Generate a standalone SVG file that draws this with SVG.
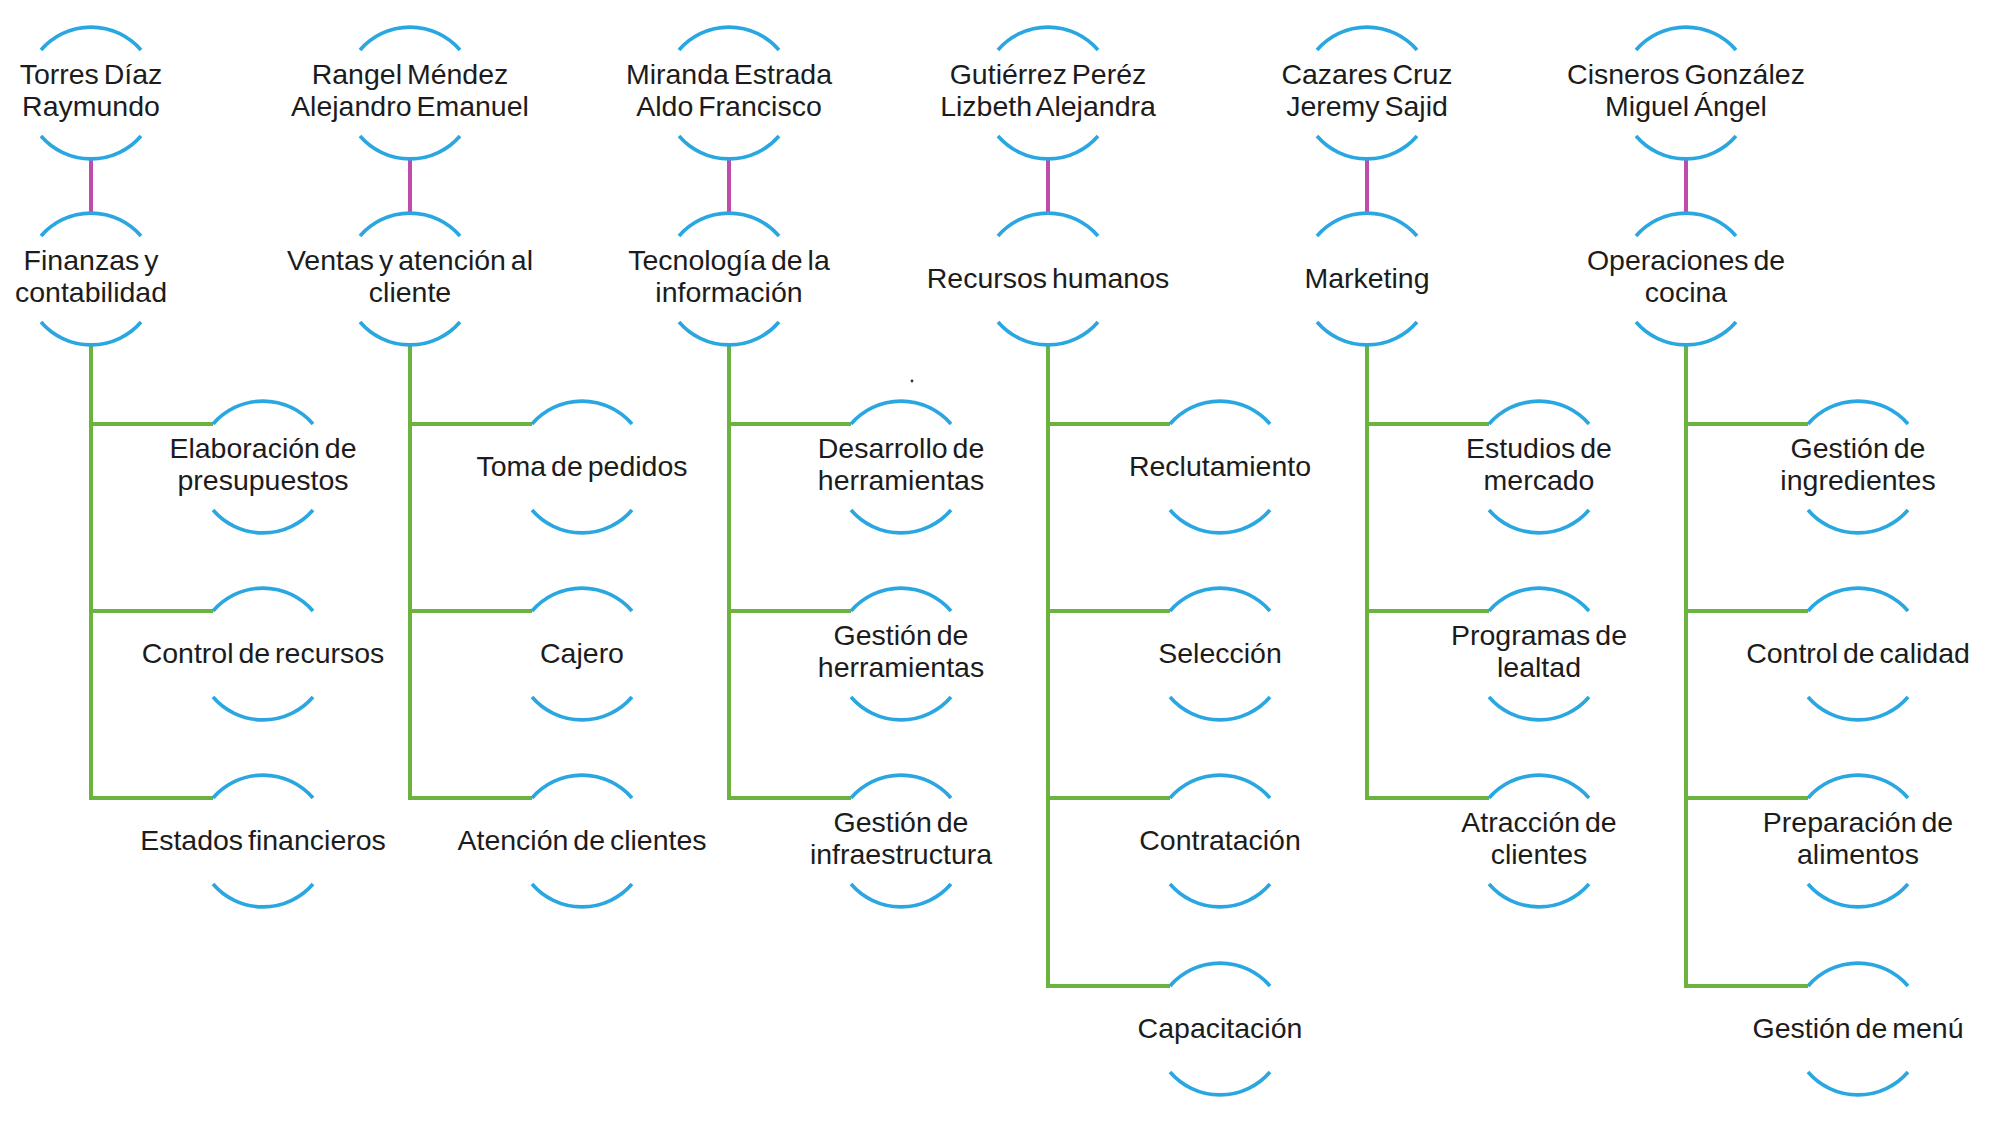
<svg xmlns="http://www.w3.org/2000/svg" xmlns:xlink="http://www.w3.org/1999/xlink" width="2006" height="1136" viewBox="0 0 2006 1136">
<style>
.ring path{fill:none;stroke:#2aa7e1;stroke-width:3.6}
.pink{fill:none;stroke:#bf4cab;stroke-width:4}
.green{fill:none;stroke:#6bb33e;stroke-width:4;stroke-linejoin:miter}
text{font-family:"Liberation Sans",Arial,sans-serif;font-size:28.5px;fill:#1c1c1c;text-anchor:middle;word-spacing:-3px}
</style>
<defs>
<g id="ring" class="ring">
<path d="M-50,-43 A66,66 0 0 1 50,-43"/>
<path d="M-50,43 A66,66 0 0 0 50,43"/>
</g>
</defs>
<rect width="2006" height="1136" fill="#ffffff"/>
<g id="connectors">
<path class="pink" d="M91,159 V213 M410,159 V213 M729,159 V213 M1048,159 V213 M1367,159 V213 M1686,159 V213"/>
<path class="green" d="M91,345 V798 H213 M91,424 H213 M91,611 H213"/>
<path class="green" d="M410,345 V798 H532 M410,424 H532 M410,611 H532"/>
<path class="green" d="M729,345 V798 H851 M729,424 H851 M729,611 H851"/>
<path class="green" d="M1048,345 V986 H1170 M1048,424 H1170 M1048,611 H1170 M1048,798 H1170"/>
<path class="green" d="M1367,345 V798 H1489 M1367,424 H1489 M1367,611 H1489"/>
<path class="green" d="M1686,345 V986 H1808 M1686,424 H1808 M1686,611 H1808 M1686,798 H1808"/>
</g>
<g id="people">
<g id="p1"><use xlink:href="#ring" href="#ring" x="91" y="93"/><text x="91" y="84">Torres Díaz</text><text x="91" y="116">Raymundo</text></g>
<g id="p2"><use xlink:href="#ring" href="#ring" x="410" y="93"/><text x="410" y="84">Rangel Méndez</text><text x="410" y="116">Alejandro Emanuel</text></g>
<g id="p3"><use xlink:href="#ring" href="#ring" x="729" y="93"/><text x="729" y="84">Miranda Estrada</text><text x="729" y="116">Aldo Francisco</text></g>
<g id="p4"><use xlink:href="#ring" href="#ring" x="1048" y="93"/><text x="1048" y="84">Gutiérrez Peréz</text><text x="1048" y="116">Lizbeth Alejandra</text></g>
<g id="p5"><use xlink:href="#ring" href="#ring" x="1367" y="93"/><text x="1367" y="84">Cazares Cruz</text><text x="1367" y="116">Jeremy Sajid</text></g>
<g id="p6"><use xlink:href="#ring" href="#ring" x="1686" y="93"/><text x="1686" y="84">Cisneros González</text><text x="1686" y="116">Miguel Ángel</text></g>
</g>
<g id="departments">
<g id="d1"><use xlink:href="#ring" href="#ring" x="91" y="279"/><text x="91" y="270">Finanzas y</text><text x="91" y="302">contabilidad</text></g>
<g id="d2"><use xlink:href="#ring" href="#ring" x="410" y="279"/><text x="410" y="270">Ventas y atención al</text><text x="410" y="302">cliente</text></g>
<g id="d3"><use xlink:href="#ring" href="#ring" x="729" y="279"/><text x="729" y="270">Tecnología de la</text><text x="729" y="302">información</text></g>
<g id="d4"><use xlink:href="#ring" href="#ring" x="1048" y="279"/><text x="1048" y="288">Recursos humanos</text></g>
<g id="d5"><use xlink:href="#ring" href="#ring" x="1367" y="279"/><text x="1367" y="288">Marketing</text></g>
<g id="d6"><use xlink:href="#ring" href="#ring" x="1686" y="279"/><text x="1686" y="270">Operaciones de</text><text x="1686" y="302">cocina</text></g>
</g>
<g id="tasks">
<g id="t1a"><use xlink:href="#ring" href="#ring" x="263" y="467"/><text x="263" y="458">Elaboración de</text><text x="263" y="490">presupuestos</text></g>
<g id="t1b"><use xlink:href="#ring" href="#ring" x="263" y="654"/><text x="263" y="663">Control de recursos</text></g>
<g id="t1c"><use xlink:href="#ring" href="#ring" x="263" y="841"/><text x="263" y="850">Estados financieros</text></g>
<g id="t2a"><use xlink:href="#ring" href="#ring" x="582" y="467"/><text x="582" y="476">Toma de pedidos</text></g>
<g id="t2b"><use xlink:href="#ring" href="#ring" x="582" y="654"/><text x="582" y="663">Cajero</text></g>
<g id="t2c"><use xlink:href="#ring" href="#ring" x="582" y="841"/><text x="582" y="850">Atención de clientes</text></g>
<g id="t3a"><use xlink:href="#ring" href="#ring" x="901" y="467"/><text x="901" y="458">Desarrollo de</text><text x="901" y="490">herramientas</text></g>
<g id="t3b"><use xlink:href="#ring" href="#ring" x="901" y="654"/><text x="901" y="645">Gestión de</text><text x="901" y="677">herramientas</text></g>
<g id="t3c"><use xlink:href="#ring" href="#ring" x="901" y="841"/><text x="901" y="832">Gestión de</text><text x="901" y="864">infraestructura</text></g>
<g id="t4a"><use xlink:href="#ring" href="#ring" x="1220" y="467"/><text x="1220" y="476">Reclutamiento</text></g>
<g id="t4b"><use xlink:href="#ring" href="#ring" x="1220" y="654"/><text x="1220" y="663">Selección</text></g>
<g id="t4c"><use xlink:href="#ring" href="#ring" x="1220" y="841"/><text x="1220" y="850">Contratación</text></g>
<g id="t4d"><use xlink:href="#ring" href="#ring" x="1220" y="1029"/><text x="1220" y="1038">Capacitación</text></g>
<g id="t5a"><use xlink:href="#ring" href="#ring" x="1539" y="467"/><text x="1539" y="458">Estudios de</text><text x="1539" y="490">mercado</text></g>
<g id="t5b"><use xlink:href="#ring" href="#ring" x="1539" y="654"/><text x="1539" y="645">Programas de</text><text x="1539" y="677">lealtad</text></g>
<g id="t5c"><use xlink:href="#ring" href="#ring" x="1539" y="841"/><text x="1539" y="832">Atracción de</text><text x="1539" y="864">clientes</text></g>
<g id="t6a"><use xlink:href="#ring" href="#ring" x="1858" y="467"/><text x="1858" y="458">Gestión de</text><text x="1858" y="490">ingredientes</text></g>
<g id="t6b"><use xlink:href="#ring" href="#ring" x="1858" y="654"/><text x="1858" y="663">Control de calidad</text></g>
<g id="t6c"><use xlink:href="#ring" href="#ring" x="1858" y="841"/><text x="1858" y="832">Preparación de</text><text x="1858" y="864">alimentos</text></g>
<g id="t6d"><use xlink:href="#ring" href="#ring" x="1858" y="1029"/><text x="1858" y="1038">Gestión de menú</text></g>
</g>
<circle cx="912" cy="381" r="1.4" fill="#333333"/>
</svg>
